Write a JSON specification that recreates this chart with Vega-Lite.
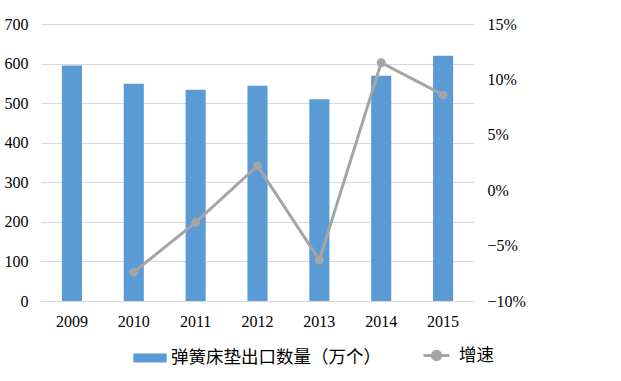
{
  "$schema": "https://vega.github.io/schema/vega-lite/v6.json",
  "width": 433,
  "height": 277,
  "autosize": "none",
  "padding": {"left": 41, "top": 24, "right": 147, "bottom": 80},
  "background": "white",
  "config": {
    "view": {"stroke": null},
    "font": "Times New Roman",
    "axis": {"labelFont": "Times New Roman", "labelFontSize": 16, "labelColor": "#000000", "ticks": false, "title": null}
  },
  "data": {
    "values": [
      {"year": "2009", "count": 595, "growth": null},
      {"year": "2010", "count": 549, "growth": -0.074},
      {"year": "2011", "count": 534, "growth": -0.029},
      {"year": "2012", "count": 544, "growth": 0.022},
      {"year": "2013", "count": 510, "growth": -0.063},
      {"year": "2014", "count": 569, "growth": 0.115},
      {"year": "2015", "count": 620, "growth": 0.086}
    ]
  },
  "encoding": {
    "x": {
      "field": "year", "type": "nominal", "sort": null,
      "scale": {"paddingInner": 0.675, "paddingOuter": 0.3375},
      "axis": {"labelAngle": 0, "domain": true, "domainColor": "#d9d9d9", "domainWidth": 1, "labelPadding": 12, "grid": false}
    }
  },
  "layer": [
    {
      "mark": {"type": "bar", "color": "#5B9BD5"},
      "encoding": {
        "y": {
          "field": "count", "type": "quantitative",
          "scale": {"domain": [0, 700], "nice": false},
          "axis": {"values": [0, 100, 200, 300, 400, 500, 600, 700], "grid": true, "gridColor": "#d9d9d9", "domain": false, "labelPadding": 13}
        },
        "fill": {
          "datum": "弹簧床垫出口数量（万个）",
          "scale": {"range": ["#5B9BD5"]},
          "legend": {
            "title": null, "orient": "none", "legendX": 92, "legendY": 317,
            "symbolType": "M-1,-0.27H1V0.27H-1Z", "symbolSize": 1120, "symbolStrokeWidth": 0,
            "labelFont": "Noto Sans CJK SC", "labelFontSize": 17.5, "labelColor": "#000000", "labelOffset": 4, "labelLimit": 400
          }
        }
      }
    },
    {
      "transform": [{"filter": "datum.growth != null"}],
      "layer": [
        {
          "mark": {"type": "line", "strokeWidth": 3},
          "encoding": {
            "y": {
              "field": "growth", "type": "quantitative",
              "scale": {"domain": [-0.1, 0.15], "nice": false},
              "axis": {"orient": "right", "values": [-0.1, -0.05, 0, 0.05, 0.1, 0.15], "format": ".0%", "grid": false, "domain": false, "labelPadding": 13}
            },
            "stroke": {
              "datum": "增速",
              "scale": {"range": ["#A5A5A5"]},
              "legend": {
                "title": null, "orient": "none", "legendX": 381, "legendY": 317,
                "symbolType": "M-1,0H1M0.32,0A0.32,0.32,0,1,1,-0.32,0A0.32,0.32,0,1,1,0.32,0Z",
                "symbolSize": 676, "symbolStrokeWidth": 3, "symbolFillColor": "#A5A5A5",
                "labelFont": "Noto Sans CJK SC", "labelFontSize": 17.5, "labelColor": "#000000", "labelOffset": 8, "labelLimit": 200
              }
            }
          }
        },
        {
          "mark": {"type": "point", "filled": true, "size": 80, "color": "#A5A5A5", "opacity": 1},
          "encoding": {
            "y": {"field": "growth", "type": "quantitative"}
          }
        }
      ]
    }
  ],
  "resolve": {"scale": {"y": "independent"}}
}
